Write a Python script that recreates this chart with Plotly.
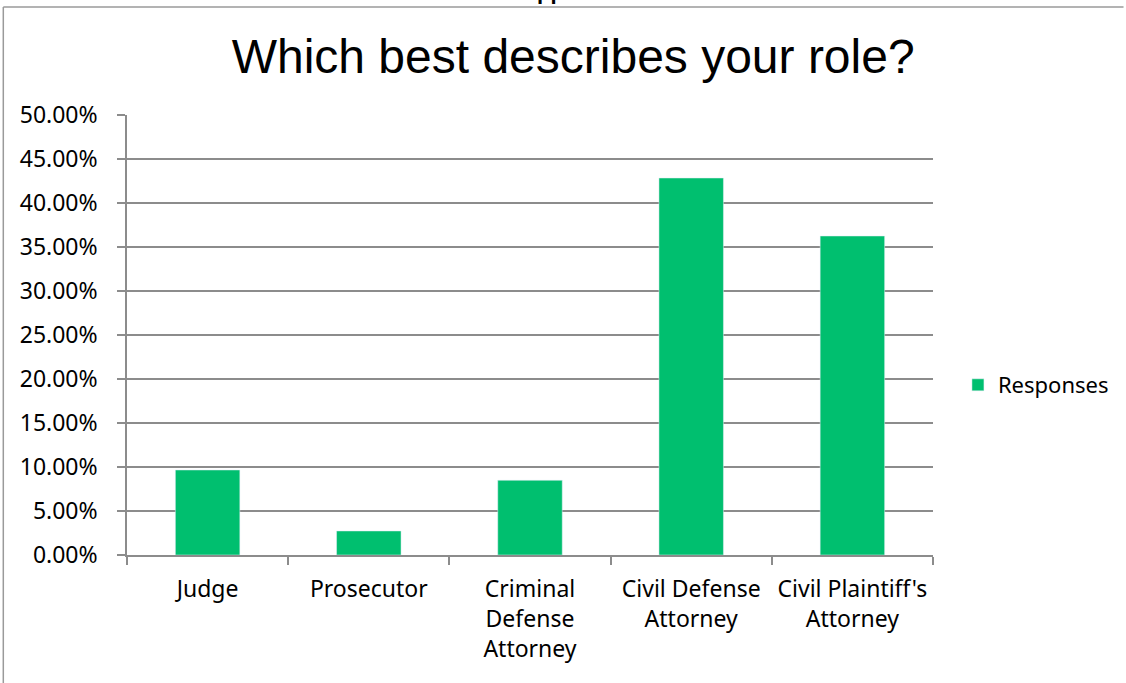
import plotly.graph_objects as go

categories = ["Judge", "Prosecutor", "Criminal<br>Defense<br>Attorney",
              "Civil Defense<br>Attorney", "Civil Plaintiff's<br>Attorney"]
responses = [0.0966, 0.0273, 0.0849, 0.4284, 0.3625]
y_ticks = [i * 0.05 for i in range(11)]
y_tick_labels = [f"{v*100:.2f}%" for v in y_ticks]

GREEN = "#00BF6F"
GRID = "#8c8c8c"
FONT = "Noto Sans"

fig = go.Figure()
fig.add_trace(go.Bar(x=categories, y=responses, name="Responses",
                     marker=dict(color=GREEN), width=0.4, showlegend=True))

W, H = 1126, 683
L, R, T, B = 127, 1126 - 935, 115, 683 - 555
pw, ph = W - L - R, H - T - B

def px(x):
    return (x - L) / pw

def py(y):
    return (H - B - y) / ph

fig.update_layout(
    width=W, height=H,
    margin=dict(l=L, r=R, t=T, b=B, pad=0),
    paper_bgcolor="white", plot_bgcolor="white",
    title=dict(text="Which best describes your role?",
               font=dict(family="Liberation Sans", size=48, color="black"),
               x=0.509, xanchor="center", y=1 - 56 / H, yanchor="middle"),
    font=dict(family=FONT, color="black"),
    showlegend=True,
    legend=dict(x=px(960), y=py(385), xanchor="left", yanchor="middle",
                font=dict(family=FONT, size=22, color="black"),
                itemwidth=30, bgcolor="rgba(0,0,0,0)", borderwidth=0,
                tracegroupgap=0),
    xaxis=dict(type="category", showgrid=False, showline=True,
               linecolor=GRID, linewidth=1.5,
               ticks="outside", tickson="boundaries", ticklen=8,
               tickcolor=GRID, tickwidth=1.5,
               tickfont=dict(family=FONT, size=23, color="black"),
               ticklabelstandoff=13, fixedrange=True),
    yaxis=dict(range=[0, 0.5], tickvals=y_ticks, ticktext=y_tick_labels,
               showgrid=True, gridcolor=GRID, gridwidth=1.5,
               showline=True, linecolor=GRID, linewidth=1.5,
               ticks="outside", ticklen=8, tickcolor=GRID, tickwidth=1.5,
               tickfont=dict(family=FONT, size=23, color="black"),
               ticklabelstandoff=15, zeroline=False, fixedrange=True),
    shapes=[
        dict(type="line", xref="paper", yref="paper",
             x0=px(3), x1=px(1126), y0=py(7), y1=py(7),
             line=dict(color="#9a9a9a", width=1.5)),
        dict(type="line", xref="paper", yref="paper",
             x0=px(3), x1=px(3), y0=py(7), y1=py(683),
             line=dict(color="#9a9a9a", width=1.5)),
    ],
    annotations=[
        dict(text="<b>pp</b>", xref="paper", yref="paper",
             x=px(552), y=py(-9), xanchor="center", yanchor="middle",
             showarrow=False, font=dict(family="Liberation Sans", size=22, color="black")),
    ],
)

fig.write_html("out.html")
